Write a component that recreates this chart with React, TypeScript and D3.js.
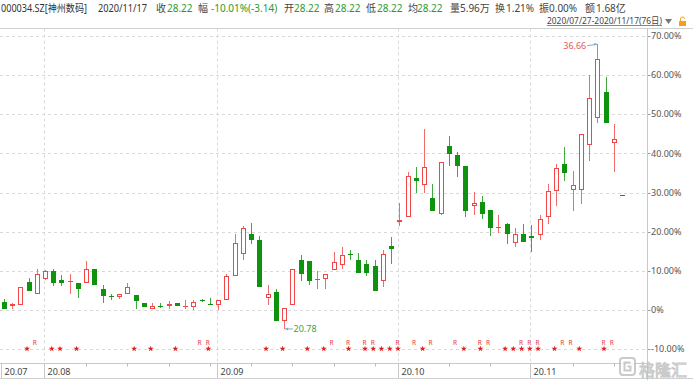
import React from "react";
import * as d3 from "d3";

// ---- data (percent change vs. base price) ----
const basePrice = 21.83;
const opens = [1.96,1.1,1.3,7.1,4.2,7.9,10.0,7.8,7.3,6.9, 7.0,10.4,5.3,3.5,3.4,4.1,3.9,1.7,0.2,1.0, 1.0,1.7,0.9,0.8,2.6,1.5,1.2,2.7,8.8,14.4, 19.5,17.8,3.1,4.7,-2.7,1.3,12.9,12.5,7.8,8.0, 10.2,11.5,14.3,12.7,11.9,11.3,7.5,16.5,22.4,23.7, 33.8,32.0,28.7,24.6,42.0,39.7,36.9,26.6,27.5,25.6, 21.1,22.1,17.2,19.5,18.9,19.2,23.9,30.4,37.2,30.7, 30.7,42.2,49.0,55.7,42.7,29.3];
const highs = [2.8,1.7,5.9,8.3,10.6,10.3,10.6,8.9,9.2,6.9, 12.5,10.6,6.3,4.2,4.1,6.9,3.9,1.7,1.9,1.9, 2.3,1.9,2.5,2.7,2.9,3.2,2.5,9.2,19.5,21.6, 22.3,18.9,6.4,5.3,0.5,10.6,14.0,12.5,9.9,9.3, 14.8,16.1,15.3,14.7,12.7,12.9,15.3,18.8,27.3,35.4, 36.5,46.2,32.2,37.7,44.5,40.5,36.9,30.1,29.1,25.6, 24.2,22.3,20.9,22.1,21.8,24.4,32.1,37.3,41.6,35.6, 45.1,60.0,67.9,59.5,47.5,29.3];
const lows = [0.18,0.4,1.2,5.0,4.2,7.8,6.2,6.2,4.0,3.0, 7.0,6.3,1.9,2.5,2.8,4.1,0.2,0.7,0.2,0.5, 0.4,1.0,0.4,0.1,2.0,1.4,0.0,2.5,8.8,12.9, 17.0,5.9,1.3,-2.8,-4.8,1.3,7.4,6.5,5.5,5.5, 10.2,10.6,12.9,9.6,8.7,4.9,5.9,11.9,21.6,23.7, 29.8,29.8,25.4,24.3,36.9,34.1,23.9,24.2,23.2,18.9, 19.8,17.0,16.1,17.4,14.8,17.8,22.1,26.7,33.1,25.3, 27.2,38.2,47.9,47.8,35.2,29.3];
const closes = [0.18,1.5,5.8,5.0,9.2,10.1,7.0,7.0,7.5,5.4, 10.4,6.4,3.6,3.3,4.1,6.0,2.4,0.8,1.0,0.7, 1.6,1.1,1.0,2.0,2.5,1.4,2.5,8.6,17.2,21.0, 17.8,5.9,4.1,-2.8,0.5,10.6,9.3,7.4,8.0,9.3, 12.3,14.2,14.1,9.6,9.6,4.9,14.4,15.7,23.1,34.3, 32.9,36.5,25.4,37.7,39.9,36.9,25.4,27.4,24.6,21.0, 21.3,19.5,19.5,17.4,18.5,23.2,30.3,36.3,35.0,32.0, 45.1,54.1,64.0,47.8,43.7,29.3];

const highPrice = 36.66;
const lowPrice = 20.78;

const yTicks = [-10, 0, 10, 20, 30, 40, 50, 60, 70];
const monthLabels = ["20.07", "20.08", "20.09", "20.10", "20.11"];
const monthStartIdx = [0, 5, 26, 48, 64];
const weekTickIdx = [10, 15, 20, 25, 30, 35, 40, 45, 54, 59, 69, 74];
const starIdx = [3,6,7,9,16,18,21,25,32,34,37,39,42,44,45,46,47,48,51,56,58,61,62,63,64,65,67,70,73];
const rIdx = [4,24,25,40,42,44,45,48,50,52,55,58,59,63,64,65,68,69,73,74];

const headTitle = "000034.SZ[神州数码]";
const headDate = "2020/11/17";
const quoteLabels = ["收", "幅", "开", "高", "低", "均", "量", "换", "振", "额"];
const quoteValues = ["28.22", "-10.01%(-3.14)", "28.22", "28.22", "28.22", "28.22", "5.96万", "1.21%", "0.00%", "1.68亿"];
const quoteLabelX = [156, 198, 284, 324, 366, 408, 450, 495, 539, 585];
const quoteValueX = [167, 211, 294, 335, 377, 417, 460, 506, 549, 596];
const rangeText = "2020/07/27-2020/11/17(76日)";

const RED = "#f04646";
const GREEN = "#0f930f";
const GRID = "#d9d9d9";
const FONT = "'Noto Sans','Noto Sans CJK SC',sans-serif";

export default function App() {
  const W = 693, H = 380;
  const plotTop = 28.5, plotRight = 647.5, axisY = 363.5;
  const x = d3.scaleLinear().domain([0, 75]).range([3.8, 622]);
  const y = d3.scaleLinear().domain([-10, 70]).range([349.3, 36]);
  const px = (v: number) => Math.round(v) + 0.5;

  const candles = opens.map((o, i) => {
    const c = closes[i];
    const prev = i > 0 ? closes[i - 1] : o;
    const up = c > o || (c === o && c >= prev);
    return { i, o, c, h: highs[i], l: lows[i], up };
  });

  const maxIdx = d3.maxIndex(highs);
  const minIdx = d3.minIndex(lows);
  const star = d3.symbol(d3.symbolStar, 11)() as string;

  return (
    <svg width={W} height={H} style={{ position: "absolute", left: 0, top: 0, background: "#fff" }} fontFamily={FONT}>
      {/* header */}
      <text x={1} y={11.5} fontSize={10.5} fill="#333" textLength={86} lengthAdjust="spacingAndGlyphs">{headTitle}</text>
      <text x={98} y={11.5} fontSize={10} fill="#333" textLength={49} lengthAdjust="spacingAndGlyphs">{headDate}</text>
      {quoteLabels.map((l, k) => (
        <g key={k}>
          <text x={quoteLabelX[k]} y={11.5} fontSize={10} fill="#444">{l}</text>
          <text x={quoteValueX[k]} y={11.5} fontSize={10} fill={k < 6 ? "#2a9a2a" : "#444"}>{quoteValues[k]}</text>
        </g>
      ))}
      <text x={547} y={24} fontSize={9.5} fill="#444" textLength={115} lengthAdjust="spacingAndGlyphs">{rangeText}</text>
      <line x1={547} x2={662} y1={25.5} y2={25.5} stroke="#666" strokeWidth={0.8} />
      <path d="M665,19 L672,19 L668.5,24 Z" fill="#777" />
      <rect x={679} y={21} width={7} height={5} fill="#f0a020" />
      <path d="M680.5,21 V19 a2,2 0 0 1 4,0" fill="none" stroke="#f0a020" strokeWidth={1} />
      <line x1={0} x2={W} y1={plotTop} y2={plotTop} stroke="#d0d0d0" />

      {/* horizontal grid */}
      {yTicks.map((t) => (
        <g key={t}>
          <line x1={0} x2={plotRight} y1={px(y(t))} y2={px(y(t))} stroke={GRID} strokeDasharray="3,3" />
          <line x1={plotRight} x2={plotRight + 3} y1={px(y(t))} y2={px(y(t))} stroke="#999" />
          <text x={651} y={y(t)} dy="0.35em" fontSize={9} fill="#555">
            {t === 0 ? "0%" : t.toFixed(2) + "%"}
          </text>
        </g>
      ))}

      {/* vertical month grid */}
      {monthStartIdx.slice(1).map((m) => (
        <line key={m} x1={px(x(m) - 1)} x2={px(x(m) - 1)} y1={plotTop} y2={axisY} stroke={GRID} strokeDasharray="3,3" />
      ))}

      {/* candles */}
      {candles.map((d) => {
        const cx = Math.round(x(d.i));
        const top = Math.round(y(Math.max(d.o, d.c)));
        const bot = Math.round(y(Math.min(d.o, d.c)));
        const hgt = Math.max(bot - top, 1);
        const col = d.up ? RED : GREEN;
        return (
          <g key={d.i}>
            <line x1={cx + 0.5} x2={cx + 0.5} y1={Math.round(y(d.h))} y2={Math.round(y(d.l))} stroke={d.up ? "#f36a6a" : "#3fa83f"} />
            {d.up ? (
              hgt <= 1 ? (
                <rect x={cx - 2} y={top} width={5} height={1} fill={col} />
              ) : (
                <rect x={cx - 1.5} y={top + 0.5} width={4} height={hgt - 1 > 0 ? hgt - 1 : 1} fill="#fff" stroke={col} />
              )
            ) : (
              <rect x={cx - 2} y={top} width={5} height={hgt} fill={col} />
            )}
          </g>
        );
      })}

      {/* high / low annotations */}
      <g>
        <text x={x(maxIdx) - 11} y={y(highs[maxIdx]) + 5} fontSize={9} fill="#e05a5a" textAnchor="end">
          {highPrice.toFixed(2)}
        </text>
        <line x1={x(maxIdx) - 10} x2={x(maxIdx)} y1={y(highs[maxIdx]) + 1.5} y2={y(highs[maxIdx])} stroke="#7aaedc" />
        <path d={`M${x(maxIdx)},${y(highs[maxIdx])} l-3,-1.5 l0,3 Z`} fill="#7aaedc" />
      </g>
      <g>
        <line x1={x(minIdx) + 1} x2={x(minIdx) + 9} y1={y(lows[minIdx])} y2={y(lows[minIdx])} stroke="#7aaedc" />
        <path d={`M${x(minIdx) + 1},${y(lows[minIdx])} l3,-1.5 l0,3 Z`} fill="#7aaedc" />
        <text x={x(minIdx) + 9.5} y={y(lows[minIdx]) + 3.5} fontSize={9} fill="#3c9f3c">
          {lowPrice.toFixed(2)}
        </text>
      </g>

      {/* event markers */}
      {starIdx.map((i) => (
        <path key={"s" + i} d={star} transform={`translate(${x(i) - 1.5},${y(-10) - 0.5})`} fill="#e02020" />
      ))}
      {rIdx.map((i) => (
        <text key={"r" + i} x={x(i) - 2} y={344.5} fontSize={6.5} fill="#e23a3a" textAnchor="middle">R</text>
      ))}

      {/* bottom axis */}
      <line x1={0} x2={plotRight} y1={axisY} y2={axisY} stroke="#c8c8c8" />
      <line x1={0} x2={W} y1={378.5} y2={378.5} stroke="#d0d0d0" />
      <line x1={plotRight} x2={plotRight} y1={plotTop} y2={H} stroke="#c8c8c8" />
      {weekTickIdx.map((i) => (
        <line key={"w" + i} x1={px(x(i))} x2={px(x(i))} y1={axisY} y2={axisY + 3} stroke="#bbb" />
      ))}
      {monthStartIdx.map((m, k) => {
        const lx = k === 0 ? 1.5 : px(x(m) - 1);
        return (
          <g key={"m" + k}>
            <line x1={lx} x2={lx} y1={axisY} y2={378} stroke="#c8c8c8" />
            <text x={lx + 3} y={375} fontSize={9} fill="#444">{monthLabels[k]}</text>
          </g>
        );
      })}

      {/* watermark */}
      <g opacity={0.8}>
        <rect x={620} y={358} width={15} height={17} rx={3} fill="#fff" stroke="#bdbdbd" strokeWidth={2} />
        <path d="M630.5,362.5 h-6 v8 h6 v-4 h-3" fill="none" stroke="#bdbdbd" strokeWidth={2} />
        <text x={639} y={375.5} fontSize={16} fill="#fff" stroke="#bdbdbd" strokeWidth={1} fontFamily="'Noto Sans CJK SC',sans-serif">格隆汇</text>
      </g>
    </svg>
  );
}
